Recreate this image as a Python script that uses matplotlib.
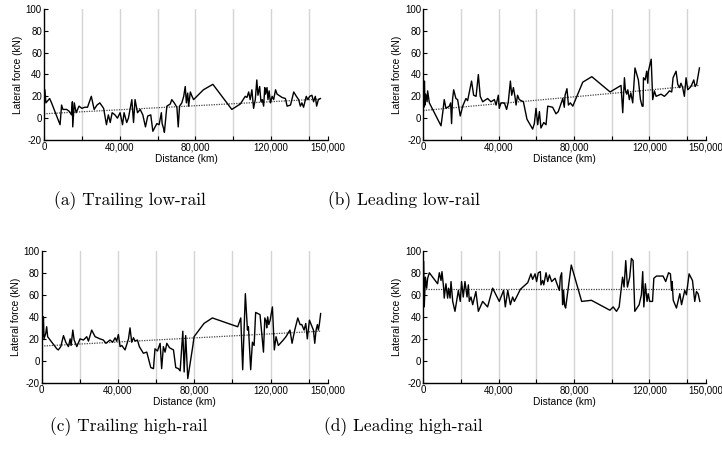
import numpy as np
import matplotlib
matplotlib.use("Agg")
import matplotlib.pyplot as plt

plt.rcParams['font.family'] = ['Liberation Sans', 'DejaVu Sans']
plt.rcParams['axes.unicode_minus'] = False

# distances in thousand km, forces in kN
dist_a = [0, 0.5, 1, 2.5, 3, 4, 8.5, 9.3, 10, 12, 13.5, 14.5, 15, 15.2, 16, 17, 18.5, 20, 21.5, 23,
          25, 26.5, 28, 29.5, 31.5, 33, 34, 35, 36, 37.5, 38.8, 40.2, 41.5, 42.3, 43.7, 44.6, 46.4, 47.3, 48.1, 49.4,
          50.8, 52.2, 53.6, 54.8, 56.4, 57.5, 58.7, 59.6, 60.8, 62, 62.4, 63.1, 63.6, 64.9, 66.7, 67.5, 68.8, 70.2, 70.9, 71.6,
          72.8, 73.8, 74.6, 75.2, 75.9, 76.4, 77.3, 78.2, 79, 84.2, 89.2, 99.2, 103.7, 106.3, 107.2, 108.1, 108.9, 109.8, 110.7, 111.6,
          112.4, 113, 113.9, 114.6, 115.3, 116, 116.6, 117, 117.8, 118.3, 118.9, 119.6, 120.5, 121.3, 122.3, 123.1, 124, 125.7, 127.5, 128.4,
          130.2, 131.9, 133.3, 134.5, 135.4, 136.2, 137.1, 138.5, 139.4, 140.3, 141.5, 142.4, 143.3, 144, 144.9, 146]
force_a = [20, 26, 14, 17, 18, 14, -6, 12, 8, 8, 6, 3, 15, -8, 14, 5, 11, 9, 10, 10,
           20, 8, 12, 14, 9, -6, 3, -4, 5, 3, 0, 5, -6, 5, -4, 0, 17, -4, 17, 5,
           8, 3, -8, 2, 3, -12, -8, -5, -6, 5, -5, -9, -13, 11, 13, 17, 14, 10, -8, 11,
           14, 20, 29, 14, 23, 11, 24, 20, 17, 26, 31, 8, 13, 20, 19, 24, 17, 26, 9, 17,
           35, 21, 29, 15, 17, 11, 28, 22, 28, 17, 25, 14, 20, 17, 26, 22, 21, 19, 18, 11,
           12, 24, 20, 17, 11, 14, 10, 20, 17, 20, 21, 15, 20, 11, 17, 18]

dist_b = [0, 0.3, 0.6, 0.9, 1.3, 2, 2.3, 3.2, 9.4, 10.3, 11.1, 12, 13.8, 14.5, 15, 15.5, 16.1, 17.3,
          18.2, 19.6, 20.9, 22.6, 23.5, 25.6, 26.7, 28, 29.2, 30.2, 31.5, 34.1, 35.9, 37.7, 38.6, 39.8, 40.3, 41.2, 43, 44.2,
          45.1, 46.2, 46.9, 47.8, 48.6, 49.2, 50, 50.9, 53.1, 55, 58, 58.9, 59.8, 60.7, 61.6, 62.4, 63.9, 65.1, 66, 68.6,
          70.4, 71.6, 74, 74.8, 75.2, 76.2, 77, 78, 79.3, 84.6, 89.4, 99.1, 104.9, 105.8, 106.7, 107.2, 107.9, 108.5, 109.3, 110.1,
          111.1, 112.3, 114.1, 115.2, 116.1, 116.6, 116.8, 117.7, 118.5, 119.1, 119.4, 120.9, 121.7, 122.6, 123.5, 126.1, 127.9, 129.1, 130.6, 131.8,
          132.5, 134.1, 135, 135.9, 136.7, 137.6, 138.5, 139.4, 140.3, 142, 143.5, 144.2, 145, 146.5]
force_b = [30, 10, 34, 12, 22, 15, 25, 14, -7, 5, 17, 9, 11, 14, -5, 17, 26, 18,
           17, 2, 11, 18, 16, 34, 21, 20, 40, 20, 15, 18, 15, 17, 12, 21, 9, 14, 14, 8,
           15, 34, 21, 28, 20, 12, 21, 17, 15, -1, -10, -5, 9, -6, 6, -9, -4, -6, 11, 10,
           4, 6, 18, 10, 21, 27, 12, 14, 11, 33, 38, 24, 30, 5, 37, 26, 22, 26, 17, 23,
           14, 46, 35, 17, 11, 11, 37, 35, 43, 32, 43, 54, 17, 25, 20, 22, 20, 22, 25, 24,
           37, 43, 31, 28, 32, 28, 20, 37, 26, 29, 35, 29, 31, 46]

dist_c = [0.2, 0.5, 0.9, 1.2, 2.1, 2.6, 3.1, 7.9, 8.7, 10, 11.4, 12.6, 14, 14.9, 15.4, 16.3, 17, 18.4, 20.1, 21.9,
          23.6, 24.5, 26.2, 28, 30.6, 32.3, 33.7, 35.8, 37.2, 38.5, 39.3, 40.2, 41.1, 42, 43.7, 45.5, 46.3, 47.2, 48.1, 49,
          50.2, 51.2, 53.3, 55.1, 57.2, 58.6, 59.4, 60.7, 62.1, 62.9, 63.8, 64.7, 65.6, 67, 69.1, 70.3, 71.7, 72.6, 74, 74.7,
          75.5, 76.6, 79.2, 79.9, 85.1, 89.5, 102.8, 104.4, 105.4, 106.8, 107.9, 108.4, 109.6, 110.5, 111.4, 112.2, 114.5, 116.3, 117, 117.7,
          118, 118.5, 119.1, 119.8, 121, 122, 122.9, 124.1, 126.7, 128.1, 130.2, 131.3, 132.7, 134.3, 135.5, 136.4, 137.6, 138.5, 139.3, 140.4,
          141.1, 142.5, 143.2, 143.9, 144.6, 145.1, 145.6, 146.3]
force_c = [43, 22, 40, 20, 25, 31, 22, 11, 10, 13, 23, 17, 13, 20, 14, 28, 19, 13, 20, 19,
           22, 18, 28, 22, 20, 19, 16, 19, 17, 21, 18, 24, 13, 14, 10, 20, 30, 17, 21, 18,
           19, 13, 7, 8, -6, -7, 11, 9, 16, -7, 13, 8, 16, 12, 10, -6, -7, -9, 27, -10,
           23, -16, 13, 22, 34, 39, 31, 39, -8, 61, 28, 31, -8, 17, 14, 44, 42, 8, 39, 36,
           30, 40, 33, 37, 49, 10, 22, 14, 19, 22, 28, 16, 28, 39, 33, 33, 28, 34, 20, 37,
           34, 28, 16, 28, 33, 28, 33, 43]

dist_d = [0.2, 0.5, 1.1, 1.8, 2.3, 3.2, 7.6, 8.5, 9.4, 9.9, 10.8, 11.1, 12, 12.9, 13.4, 14.2, 14.7, 15.6, 16.8, 18.6,
          19.6, 20.3, 21.2, 22.1, 23.2, 23.9, 24.4, 25.3, 26.2, 27.9, 29.2, 31.5, 34.1, 36.8, 40.3, 42.6, 43.5, 44.8, 46.2, 47.4,
          48.3, 51.5, 55.4, 57.1, 58, 59.3, 60.1, 61, 62.1, 62.4, 63.3, 63.9, 65.1, 66, 66.9, 68.1, 69.9, 70.9, 72.2, 72.7,
          73.4, 73.9, 74.4, 75, 75.5, 78.5, 84, 89.2, 99, 100.7, 102.5, 103.9, 105.7, 106.5, 107.4, 108.3, 109.5, 110.4, 111.3, 112.2,
          114.5, 115.7, 116.4, 117, 117.8, 118.7, 119.3, 120.1, 121.6, 122.3, 123.7, 127.2, 128.6, 130.1, 131.1, 131.7, 132, 132.6, 134.3, 136.1,
          137, 138.7, 139.6, 141, 142.8, 144, 144.9, 145.8, 146.7]
force_d = [90, 49, 76, 66, 75, 80, 70, 80, 73, 81, 66, 57, 70, 57, 66, 57, 72, 54, 45, 64,
           54, 72, 58, 72, 58, 69, 54, 58, 51, 63, 45, 54, 49, 66, 54, 64, 49, 64, 51, 58,
           54, 65, 71, 79, 74, 79, 72, 80, 81, 69, 73, 69, 80, 72, 78, 72, 75, 70, 64, 76,
           80, 51, 64, 50, 48, 87, 54, 55, 46, 49, 45, 49, 76, 67, 91, 67, 76, 93, 91, 45,
           51, 60, 81, 49, 70, 54, 61, 54, 54, 75, 77, 77, 72, 80, 79, 64, 72, 55, 48, 61,
           51, 64, 60, 79, 73, 54, 63, 61, 54]

# trend line end values (kN)
trend_a = [4, 17.5]
trend_b = [7, 30]
trend_c = [13.5, 27]
trend_d = [65, 65]

captions = ['(a) Trailing low-rail', '(b) Leading low-rail',
            '(c) Trailing high-rail', '(d) Leading high-rail']

xticks = [0, 20000, 40000, 60000, 80000, 100000, 120000, 140000, 150000]
xlabels = ['0', '', '40,000', '', '80,000', '', '120,000', '', '150,000']
yticks = [-20, 0, 20, 40, 60, 80, 100]

fig = plt.figure(figsize=(7.22, 4.59), dpi=100)

rects = [[0.0609, 0.695, 0.3934, 0.2854],
         [0.5863, 0.695, 0.3916, 0.2854],
         [0.0578, 0.1656, 0.3961, 0.2882],
         [0.5863, 0.1656, 0.3916, 0.2882]]
cap_pos = [(0.180, 0.562), (0.560, 0.562), (0.179, 0.070), (0.558, 0.070)]

panels = [(dist_a, force_a, trend_a), (dist_b, force_b, trend_b),
          (dist_c, force_c, trend_c), (dist_d, force_d, trend_d)]

for i, (d, f, tr) in enumerate(panels):
    ax = fig.add_axes(rects[i])
    x = np.array(d) * 1000
    for g in range(20000, 150000, 20000):
        ax.axvline(g, color='#d4d4d4', lw=1.0, zorder=0)
    ax.plot(x, f, color='black', lw=1.0, zorder=3)
    ax.plot([0, x[-1]], tr, color='#444444', lw=0.9, ls=(0, (1, 1)), zorder=2)
    ax.set_xlim(0, 150000)
    ax.set_ylim(-20, 100)
    ax.set_xticks(xticks)
    ax.set_xticklabels(xlabels)
    ax.set_yticks(yticks)
    ax.tick_params(direction='in', length=3, width=0.8, labelsize=7, pad=1.5)
    for s in ['top', 'right']:
        ax.spines[s].set_visible(False)
    for s in ['left', 'bottom']:
        ax.spines[s].set_linewidth(1.0)
    ax.set_xlabel('Distance (km)', fontsize=7.3, labelpad=1.5)
    ax.set_ylabel('Lateral force (kN)', fontsize=7.3, labelpad=2)
    fig.text(cap_pos[i][0], cap_pos[i][1], captions[i], fontsize=12.5,
             family='cmr10', ha='center', va='center')

fig.savefig('out.png', dpi=100)
